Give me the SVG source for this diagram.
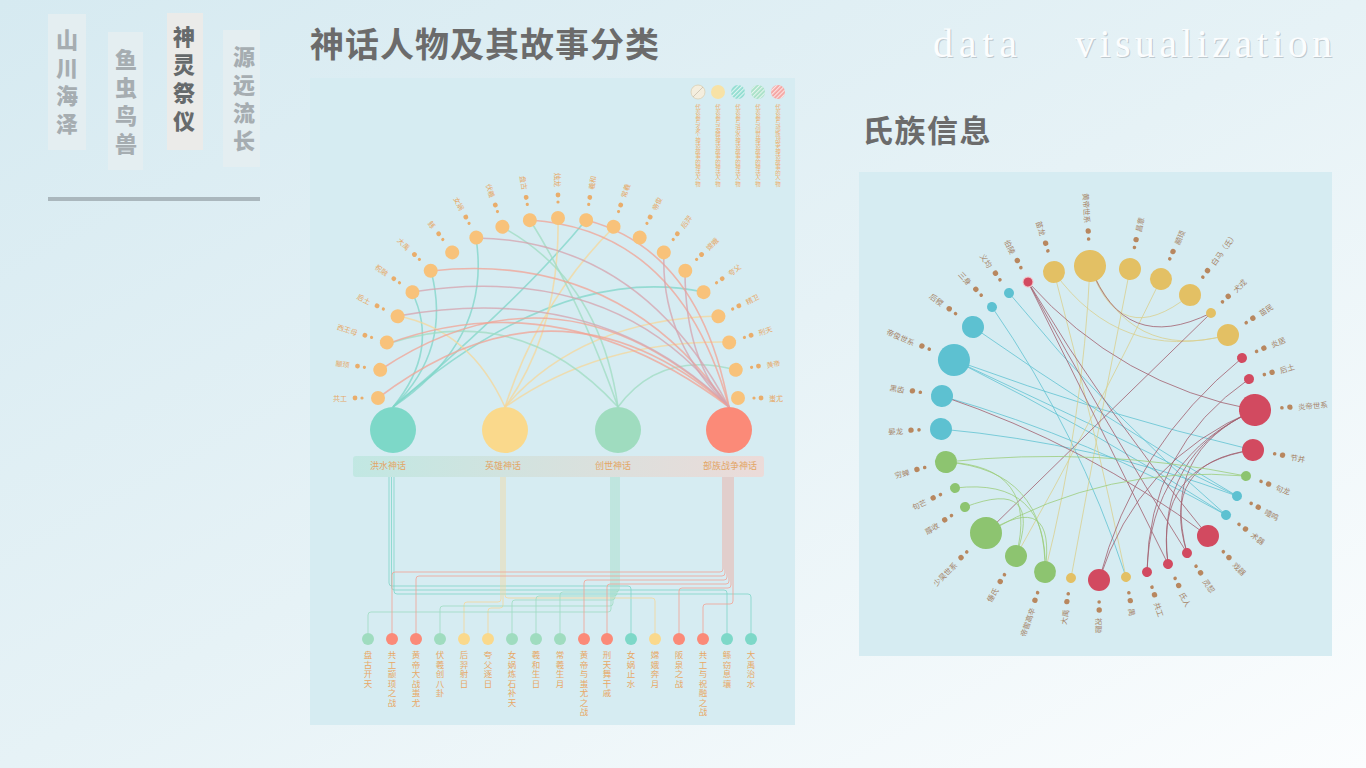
<svg xmlns="http://www.w3.org/2000/svg" width="1366" height="768" viewBox="0 0 1366 768">
<defs>
<linearGradient id="pg" x1="0" y1="0" x2="1" y2="1">
<stop offset="0" stop-color="#d6eaf1"/><stop offset="0.5" stop-color="#e6f2f6"/><stop offset="1" stop-color="#fbfdfe"/>
</linearGradient>
<linearGradient id="bar" x1="0" y1="0" x2="1" y2="0">
<stop offset="0" stop-color="#bfe7e1"/><stop offset="1" stop-color="#eed9d6"/>
</linearGradient>
<pattern id="hatch" width="3" height="3" patternUnits="userSpaceOnUse" patternTransform="rotate(-45)">
<rect width="3" height="1.2" fill="#ffffff" opacity="0.7"/>
</pattern>
<style>
.nav{font-family:"Noto Sans CJK SC",sans-serif;font-weight:900;font-size:22px;writing-mode:vertical-rl;letter-spacing:6px;fill:#a6adb1}
.navsel{fill:#666a6c}
.navbox{fill:#e4eef1}
.title{font-family:"Noto Sans CJK SC",sans-serif;font-weight:700;fill:#6b6b6b}
.panel{fill:#d6ecf2}
.al{font-family:"Noto Sans CJK SC",sans-serif;font-size:7px;fill:#e6a866;dominant-baseline:central}
.ad{fill:#e9ad6b}
.an{fill:#f8c27a}
.bl{font-family:"Noto Sans CJK SC",sans-serif;font-size:8.5px;fill:#e8a865;writing-mode:vertical-rl;letter-spacing:1px}
.lg{font-family:"Noto Sans CJK SC",sans-serif;font-size:5.5px;fill:#edb06f;writing-mode:vertical-rl}
.cat{font-family:"Noto Sans CJK SC",sans-serif;font-size:9px;fill:#e3a566;text-anchor:middle}
.e{fill:none;stroke-width:1.6;opacity:0.75}
.b{fill:none;stroke-width:1;opacity:0.8;stroke-linejoin:round}
.t{stroke:#7fd6c8}.y{stroke:#f5d79a}.g{stroke:#9fdcc2}.p{stroke:#f2a394}.m{stroke:#d6a3ae}
.rt{stroke:#62c3d2}.ry{stroke:#d9cf8f}.rm{stroke:#a3606f}.rg{stroke:#9ccd7c}
.re{fill:none;stroke-width:1;opacity:0.8}
.rl{font-family:"Noto Sans CJK SC",sans-serif;font-size:7.5px;fill:#a68468;dominant-baseline:central}
.rd{fill:#b8875f}
.cY{fill:#e3c064}.cT{fill:#5dc1d1}.cG{fill:#8dc470}.cR{fill:#d24a60}
.kT{fill:#7dd8c8}.kY{fill:#fad98c}.kG{fill:#9fdcbf}.kR{fill:#fb8a78}
</style>
</defs>

<rect width="1366" height="768" fill="url(#pg)"/>

<!-- navigation -->
<g id="nav">
<rect class="navbox" x="48" y="14" width="38" height="136"/>
<text class="nav" x="67" y="29">山川海泽</text>
<rect class="navbox" x="108" y="32" width="35" height="138"/>
<text class="nav" x="126" y="49">鱼虫鸟兽</text>
<rect x="167" y="13" width="36" height="137" fill="#ebebe9"/>
<text class="nav navsel" x="184" y="26">神灵祭仪</text>
<rect class="navbox" x="223" y="30" width="37" height="137"/>
<text class="nav" x="244" y="46">源远流长</text>
<line x1="48" y1="199" x2="260" y2="199" stroke="#aab7bd" stroke-width="4"/>
</g>

<!-- titles -->
<text class="title" x="310" y="57" font-size="34" letter-spacing="1">神话人物及其故事分类</text>
<text class="title" x="862" y="142" font-size="31" letter-spacing="1.5">氏族信息</text>
<g font-family="'Liberation Serif',serif" font-size="40">
<text x="934" y="58" textLength="84" lengthAdjust="spacing" fill="#bfc9ce">data</text>
<text x="1076" y="58" textLength="257" lengthAdjust="spacing" fill="#bfc9ce">visualization</text>
<text x="933" y="57" textLength="84" lengthAdjust="spacing" fill="#fbfdfe">data</text>
<text x="1075" y="57" textLength="257" lengthAdjust="spacing" fill="#fbfdfe">visualization</text>
</g>

<!-- left panel -->
<rect class="panel" x="310" y="78" width="485" height="647"/>

<g id="legend">
<circle cx="698" cy="92" r="7" fill="#f4eede" stroke="#dccfb2" stroke-width="0.8"/>
<line x1="693" y1="97" x2="703" y2="87" stroke="#c9bfae" stroke-width="0.8"/>
<circle cx="718" cy="92" r="7" fill="#f7e2a6"/>
<circle cx="738" cy="92" r="7" fill="#8edcd0"/><circle cx="738" cy="92" r="7" fill="url(#hatch)"/>
<circle cx="758" cy="92" r="7" fill="#a6e0c6"/><circle cx="758" cy="92" r="7" fill="url(#hatch)"/>
<circle cx="778" cy="92" r="7" fill="#f4a3a0"/><circle cx="778" cy="92" r="7" fill="url(#hatch)"/>
<text class="lg" x="698" y="104">代表参与多个神话故事的神话人物</text>
<text class="lg" x="718" y="104">代表参与英雄神话故事的神话人物</text>
<text class="lg" x="738" y="104">代表参与洪水神话故事的神话人物</text>
<text class="lg" x="758" y="104">代表参与创世神话故事的神话人物</text>
<text class="lg" x="778" y="104">代表参与部族战争神话故事的人物</text>
</g>

<g id="left-connectors">
<path class="e t" d="M412,292 Q440,350 393,407"/>
<path class="e t" d="M431,271 Q452,350 393,407"/>
<path class="e t" d="M476,238 Q492,340 393,407"/>
<path class="e t" d="M704,292 Q560,262 393,407"/>
<path class="e t" d="M586,220 Q520,300 393,407"/>
<path class="e y" d="M398,316 Q470,330 505,407"/>
<path class="e y" d="M614,227 Q540,300 505,407"/>
<path class="e y" d="M718,316 Q580,320 505,407"/>
<path class="e y" d="M729,342 Q600,340 505,407"/>
<path class="e y" d="M558,218 Q560,330 505,407"/>
<path class="e g" d="M387,344 Q520,300 618,407"/>
<path class="e g" d="M530,220 Q580,300 618,407"/>
<path class="e g" d="M736,370 Q660,350 618,407"/>
<path class="e g" d="M502,227 Q600,280 618,407"/>
<path class="e p" d="M378,398 Q560,260 729,407"/>
<path class="e p" d="M380,370 Q560,250 729,407"/>
<path class="e m" d="M398,316 Q600,280 729,407"/>
<path class="e p" d="M431,271 Q620,250 729,407"/>
<path class="e m" d="M476,238 Q640,240 729,407"/>
<path class="e p" d="M530,220 Q680,230 729,407"/>
<path class="e p" d="M586,220 Q700,250 729,407"/>
<path class="e m" d="M664,252 Q660,340 729,407"/>
<path class="e m" d="M685,271 Q685,360 729,407"/>
<path class="e p" d="M387,344 Q560,280 729,407"/>
<path class="e m" d="M412,292 Q620,260 729,407"/>
</g>

<g id="bottom-connectors">
<path class="b t" d="M389,477 V583 Q389,586 392,586 H628 Q631,586 631,589 V633"/>
<path class="b t" d="M391.5,477 V587 Q391.5,590 394.5,590 H724 Q727,590 727,593 V633"/>
<path class="b t" d="M394,477 V591 Q394,594 397,594 H748 Q751,594 751,597 V633"/>
<path class="b y" d="M501,477 V599 Q501,602 498,602 H467 Q464,602 464,605 V633"/>
<path class="b y" d="M503,477 V605 Q503,608 500,608 H491 Q488,608 488,611 V633"/>
<path class="b y" d="M505,477 V595 Q505,598 508,598 H652 Q655,598 655,601 V633"/>
<path class="b g" d="M611,477 V609 Q611,612 608,612 H371 Q368,612 368,615 V633"/>
<path class="b g" d="M613,477 V603 Q613,606 610,606 H443 Q440,606 440,609 V633"/>
<path class="b g" d="M615,477 V597 Q615,600 612,600 H515 Q512,600 512,603 V633"/>
<path class="b g" d="M617,477 V593 Q617,596 614,596 H539 Q536,596 536,599 V633"/>
<path class="b g" d="M619,477 V589 Q619,592 616,592 H563 Q560,592 560,595 V633"/>
<path class="b p" d="M723,477 V569 Q723,572 720,572 H395 Q392,572 392,575 V633"/>
<path class="b p" d="M725,477 V573 Q725,576 722,576 H419 Q416,576 416,579 V633"/>
<path class="b p" d="M727,477 V577 Q727,580 724,580 H587 Q584,580 584,583 V633"/>
<path class="b p" d="M729,477 V581 Q729,584 726,584 H610 Q607,584 607,587 V633"/>
<path class="b p" d="M731,477 V585 Q731,588 728,588 H682 Q679,588 679,591 V633"/>
<path class="b p" d="M733,477 V601 Q733,604 730,604 H706 Q703,604 703,607 V633"/>
</g>

<g id="arc-nodes">
<g id="a0" transform="translate(378,398) rotate(0)"><circle r="7" class="an"/><circle cx="-16" r="1.6" class="ad"/><circle cx="-23" r="2.4" class="ad"/><text class="al" x="-31" text-anchor="end">共工</text></g>
<g id="a1" transform="translate(380.2,369.8) rotate(9)"><circle r="7" class="an"/><circle cx="-16" r="1.6" class="ad"/><circle cx="-23" r="2.4" class="ad"/><text class="al" x="-31" text-anchor="end">颛顼</text></g>
<g id="a2" transform="translate(386.8,342.4) rotate(18)"><circle r="7" class="an"/><circle cx="-16" r="1.6" class="ad"/><circle cx="-23" r="2.4" class="ad"/><text class="al" x="-31" text-anchor="end">西王母</text></g>
<g id="a3" transform="translate(397.6,316.3) rotate(27)"><circle r="7" class="an"/><circle cx="-16" r="1.6" class="ad"/><circle cx="-23" r="2.4" class="ad"/><text class="al" x="-31" text-anchor="end">后土</text></g>
<g id="a4" transform="translate(412.4,292.2) rotate(36)"><circle r="7" class="an"/><circle cx="-16" r="1.6" class="ad"/><circle cx="-23" r="2.4" class="ad"/><text class="al" x="-31" text-anchor="end">祝融</text></g>
<g id="a5" transform="translate(430.7,270.7) rotate(45)"><circle r="7" class="an"/><circle cx="-16" r="1.6" class="ad"/><circle cx="-23" r="2.4" class="ad"/><text class="al" x="-31" text-anchor="end">大禹</text></g>
<g id="a6" transform="translate(452.2,252.4) rotate(54)"><circle r="7" class="an"/><circle cx="-16" r="1.6" class="ad"/><circle cx="-23" r="2.4" class="ad"/><text class="al" x="-31" text-anchor="end">鲧</text></g>
<g id="a7" transform="translate(476.3,237.6) rotate(63)"><circle r="7" class="an"/><circle cx="-16" r="1.6" class="ad"/><circle cx="-23" r="2.4" class="ad"/><text class="al" x="-31" text-anchor="end">女娲</text></g>
<g id="a8" transform="translate(502.4,226.8) rotate(72)"><circle r="7" class="an"/><circle cx="-16" r="1.6" class="ad"/><circle cx="-23" r="2.4" class="ad"/><text class="al" x="-31" text-anchor="end">伏羲</text></g>
<g id="a9" transform="translate(529.8,220.2) rotate(81)"><circle r="7" class="an"/><circle cx="-16" r="1.6" class="ad"/><circle cx="-23" r="2.4" class="ad"/><text class="al" x="-31" text-anchor="end">盘古</text></g>
<g id="a10" transform="translate(558,218) rotate(90)"><circle r="7" class="an"/><circle cx="-16" r="1.6" class="ad"/><circle cx="-23" r="2.4" class="ad"/><text class="al" x="-31" text-anchor="end">烛龙</text></g>
<g id="a11" transform="translate(586.2,220.2) rotate(-81)"><circle r="7" class="an"/><circle cx="16" r="1.6" class="ad"/><circle cx="23" r="2.4" class="ad"/><text class="al" x="31">羲和</text></g>
<g id="a12" transform="translate(613.6,226.8) rotate(-72)"><circle r="7" class="an"/><circle cx="16" r="1.6" class="ad"/><circle cx="23" r="2.4" class="ad"/><text class="al" x="31">常羲</text></g>
<g id="a13" transform="translate(639.7,237.6) rotate(-63)"><circle r="7" class="an"/><circle cx="16" r="1.6" class="ad"/><circle cx="23" r="2.4" class="ad"/><text class="al" x="31">帝俊</text></g>
<g id="a14" transform="translate(663.8,252.4) rotate(-54)"><circle r="7" class="an"/><circle cx="16" r="1.6" class="ad"/><circle cx="23" r="2.4" class="ad"/><text class="al" x="31">后羿</text></g>
<g id="a15" transform="translate(685.3,270.7) rotate(-45)"><circle r="7" class="an"/><circle cx="16" r="1.6" class="ad"/><circle cx="23" r="2.4" class="ad"/><text class="al" x="31">嫦娥</text></g>
<g id="a16" transform="translate(703.6,292.2) rotate(-36)"><circle r="7" class="an"/><circle cx="16" r="1.6" class="ad"/><circle cx="23" r="2.4" class="ad"/><text class="al" x="31">夸父</text></g>
<g id="a17" transform="translate(718.4,316.3) rotate(-27)"><circle r="7" class="an"/><circle cx="16" r="1.6" class="ad"/><circle cx="23" r="2.4" class="ad"/><text class="al" x="31">精卫</text></g>
<g id="a18" transform="translate(729.2,342.4) rotate(-18)"><circle r="7" class="an"/><circle cx="16" r="1.6" class="ad"/><circle cx="23" r="2.4" class="ad"/><text class="al" x="31">刑天</text></g>
<g id="a19" transform="translate(735.8,369.8) rotate(-9)"><circle r="7" class="an"/><circle cx="16" r="1.6" class="ad"/><circle cx="23" r="2.4" class="ad"/><text class="al" x="31">黄帝</text></g>
<g id="a20" transform="translate(738,398) rotate(0)"><circle r="7" class="an"/><circle cx="16" r="1.6" class="ad"/><circle cx="23" r="2.4" class="ad"/><text class="al" x="31">蚩尤</text></g>
</g>

<g id="category-bar">
<rect x="353" y="456" width="411" height="21" rx="3" fill="url(#bar)" opacity="0.9"/>
</g>
<g id="cat-flood"><circle cx="393" cy="430" r="23" class="kT"/><text class="cat" x="388" y="469">洪水神话</text></g>
<g id="cat-hero"><circle cx="505" cy="430" r="23" class="kY"/><text class="cat" x="503" y="469">英雄神话</text></g>
<g id="cat-creation"><circle cx="618" cy="430" r="23" class="kG"/><text class="cat" x="613" y="469">创世神话</text></g>
<g id="cat-war"><circle cx="729" cy="430" r="23" class="kR"/><text class="cat" x="730" y="469">部族战争神话</text></g>

<g id="stories">
<g id="s1"><circle cx="368" cy="639" r="6" class="kG"/><text class="bl" x="368" y="651">盘古开天</text></g>
<g id="s2"><circle cx="392" cy="639" r="6" class="kR"/><text class="bl" x="392" y="651">共工颛顼之战</text></g>
<g id="s3"><circle cx="416" cy="639" r="6" class="kR"/><text class="bl" x="416" y="651">黄帝大战蚩尤</text></g>
<g id="s4"><circle cx="440" cy="639" r="6" class="kG"/><text class="bl" x="440" y="651">伏羲创八卦</text></g>
<g id="s5"><circle cx="464" cy="639" r="6" class="kY"/><text class="bl" x="464" y="651">后羿射日</text></g>
<g id="s6"><circle cx="488" cy="639" r="6" class="kY"/><text class="bl" x="488" y="651">夸父逐日</text></g>
<g id="s7"><circle cx="512" cy="639" r="6" class="kG"/><text class="bl" x="512" y="651">女娲炼石补天</text></g>
<g id="s8"><circle cx="536" cy="639" r="6" class="kG"/><text class="bl" x="536" y="651">羲和生日</text></g>
<g id="s9"><circle cx="560" cy="639" r="6" class="kG"/><text class="bl" x="560" y="651">常羲生月</text></g>
<g id="s10"><circle cx="584" cy="639" r="6" class="kR"/><text class="bl" x="584" y="651">黄帝与蚩尤之战</text></g>
<g id="s11"><circle cx="607" cy="639" r="6" class="kR"/><text class="bl" x="607" y="651">刑天舞干戚</text></g>
<g id="s12"><circle cx="631" cy="639" r="6" class="kT"/><text class="bl" x="631" y="651">女娲止水</text></g>
<g id="s13"><circle cx="655" cy="639" r="6" class="kY"/><text class="bl" x="655" y="651">嫦娥奔月</text></g>
<g id="s14"><circle cx="679" cy="639" r="6" class="kR"/><text class="bl" x="679" y="651">阪泉之战</text></g>
<g id="s15"><circle cx="703" cy="639" r="6" class="kR"/><text class="bl" x="703" y="651">共工与祝融之战</text></g>
<g id="s16"><circle cx="727" cy="639" r="6" class="kT"/><text class="bl" x="727" y="651">鲧窃息壤</text></g>
<g id="s17"><circle cx="751" cy="639" r="6" class="kT"/><text class="bl" x="751" y="651">大禹治水</text></g>
</g>

<!-- right panel -->
<rect class="panel" x="859" y="172" width="473" height="484"/>

<g id="clan-connectors">
<path class="re rt" d="M954,360 Q1097,426 1237,496"/>
<path class="re rt" d="M954,360 Q1094,430 1226,515"/>
<path class="re rt" d="M973,327 Q1102,417 1237,496"/>
<path class="re rt" d="M942,396 Q1091,439 1226,515"/>
<path class="re rt" d="M941,429 Q1094,443 1237,496"/>
<path class="re rt" d="M1009,293 Q1108,414 1226,515"/>
<path class="re rt" d="M954,360 Q1101,414 1253,450"/>
<path class="re rt" d="M992,307 Q1079,433 1126,577"/>
<path class="re ry" d="M1090,266 Q1129,362 1228,335"/>
<path class="re ry" d="M1090,266 Q1119,352 1190,295"/>
<path class="re ry" d="M1054,272 Q1120,363 1228,335"/>
<path class="re ry" d="M1130,269 Q1099,423 1071,578"/>
<path class="re ry" d="M1054,272 Q1094,424 1126,577"/>
<path class="re ry" d="M1161,279 Q1093,420 1016,556"/>
<path class="re ry" d="M1090,266 Q1083,421 1045,572"/>
<path class="re rm" d="M1255,410 Q1120,385 1028,282"/>
<path class="re rm" d="M1255,410 Q1138,459 1099,580"/>
<path class="re rm" d="M1255,410 Q1150,457 1147,572"/>
<path class="re rm" d="M1255,410 Q1155,455 1168,564"/>
<path class="re rm" d="M1255,410 Q1160,452 1187,553"/>
<path class="re rm" d="M1028,282 Q1103,420 1187,553"/>
<path class="re rm" d="M1028,282 Q1098,423 1168,564"/>
<path class="re rm" d="M1090,266 Q1124,356 1211,313"/>
<path class="re rm" d="M1211,313 Q1098,423 986,533"/>
<path class="re rm" d="M1242,358 Q1134,446 1099,580"/>
<path class="re rm" d="M1249,379 Q1148,449 1147,572"/>
<path class="re rm" d="M1253,450 Q1154,465 1168,564"/>
<path class="re rm" d="M1253,450 Q1159,462 1187,553"/>
<path class="re rm" d="M1208,536 Q1087,445 942,396"/>
<path class="re rm" d="M1028,282 Q1108,416 1208,536"/>
<path class="re rg" d="M946,462 Q1047,470 1045,572"/>
<path class="re rg" d="M955,488 Q1049,477 1045,572"/>
<path class="re rg" d="M965,507 Q1044,477 1016,556"/>
<path class="re rg" d="M986,533 Q1107,464 1246,476"/>
<path class="re rg" d="M946,462 Q1097,446 1246,476"/>
<path class="re rg" d="M986,533 Q1057,488 1045,572"/>
<path class="re rg" d="M1016,556 Q1040,466 946,462"/>
</g>

<g id="clan-nodes">
<g id="c1" transform="translate(1090,266) rotate(87.1)"><circle r="16" class="cY"/><circle cx="-27" r="1.8" class="rd"/><circle cx="-35" r="2.7" class="rd"/><text class="rl" x="-43" text-anchor="end">黄帝世系</text></g>
<g id="c2" transform="translate(1130,269) rotate(-78.3)"><circle r="11" class="cY"/><circle cx="22" r="1.8" class="rd"/><circle cx="30" r="2.7" class="rd"/><text class="rl" x="38">昌意</text></g>
<g id="c3" transform="translate(1161,279) rotate(-66.4)"><circle r="11" class="cY"/><circle cx="22" r="1.8" class="rd"/><circle cx="30" r="2.7" class="rd"/><text class="rl" x="38">颛顼</text></g>
<g id="c4" transform="translate(1190,295) rotate(-54.3)"><circle r="11" class="cY"/><circle cx="22" r="1.8" class="rd"/><circle cx="30" r="2.7" class="rd"/><text class="rl" x="38">白马（氐）</text></g>
<g id="c5" transform="translate(1211,313) rotate(-44.2)"><circle r="5" class="cY"/><circle cx="16" r="1.8" class="rd"/><circle cx="24" r="2.7" class="rd"/><text class="rl" x="32">犬戎</text></g>
<g id="c6" transform="translate(1228,335) rotate(-34.1)"><circle r="11" class="cY"/><circle cx="22" r="1.8" class="rd"/><circle cx="30" r="2.7" class="rd"/><text class="rl" x="38">苗民</text></g>
<g id="c7" transform="translate(1242,358) rotate(-24.3)"><circle r="5" class="cR"/><circle cx="16" r="1.8" class="rd"/><circle cx="24" r="2.7" class="rd"/><text class="rl" x="32">炎居</text></g>
<g id="c8" transform="translate(1249,379) rotate(-16.2)"><circle r="5" class="cR"/><circle cx="16" r="1.8" class="rd"/><circle cx="24" r="2.7" class="rd"/><text class="rl" x="32">后土</text></g>
<g id="c9" transform="translate(1255,410) rotate(-4.7)"><circle r="16" class="cR"/><circle cx="27" r="1.8" class="rd"/><circle cx="35" r="2.7" class="rd"/><text class="rl" x="43">炎帝世系</text></g>
<g id="c10" transform="translate(1253,450) rotate(9.9)"><circle r="11" class="cR"/><circle cx="22" r="1.8" class="rd"/><circle cx="30" r="2.7" class="rd"/><text class="rl" x="38">节并</text></g>
<g id="c11" transform="translate(1246,476) rotate(19.7)"><circle r="5" class="cG"/><circle cx="16" r="1.8" class="rd"/><circle cx="24" r="2.7" class="rd"/><text class="rl" x="32">句龙</text></g>
<g id="c12" transform="translate(1237,496) rotate(27.7)"><circle r="5" class="cT"/><circle cx="16" r="1.8" class="rd"/><circle cx="24" r="2.7" class="rd"/><text class="rl" x="32">噎鸣</text></g>
<g id="c13" transform="translate(1226,515) rotate(35.7)"><circle r="5" class="cT"/><circle cx="16" r="1.8" class="rd"/><circle cx="24" r="2.7" class="rd"/><text class="rl" x="32">术器</text></g>
<g id="c14" transform="translate(1208,536) rotate(45.8)"><circle r="11" class="cR"/><circle cx="22" r="1.8" class="rd"/><circle cx="30" r="2.7" class="rd"/><text class="rl" x="38">戏器</text></g>
<g id="c15" transform="translate(1187,553) rotate(55.6)"><circle r="5" class="cR"/><circle cx="16" r="1.8" class="rd"/><circle cx="24" r="2.7" class="rd"/><text class="rl" x="32">灵恝</text></g>
<g id="c16" transform="translate(1168,564) rotate(63.6)"><circle r="5" class="cR"/><circle cx="16" r="1.8" class="rd"/><circle cx="24" r="2.7" class="rd"/><text class="rl" x="32">氐人</text></g>
<g id="c17" transform="translate(1147,572) rotate(71.8)"><circle r="5" class="cR"/><circle cx="16" r="1.8" class="rd"/><circle cx="24" r="2.7" class="rd"/><text class="rl" x="32">共工</text></g>
<g id="c18" transform="translate(1126,577) rotate(79.7)"><circle r="5" class="cY"/><circle cx="16" r="1.8" class="rd"/><circle cx="24" r="2.7" class="rd"/><text class="rl" x="32">禺</text></g>
<g id="c19" transform="translate(1099,580) rotate(89.6)"><circle r="11" class="cR"/><circle cx="22" r="1.8" class="rd"/><circle cx="30" r="2.7" class="rd"/><text class="rl" x="38">祝融</text></g>
<g id="c20" transform="translate(1071,578) rotate(-80.1)"><circle r="5" class="cY"/><circle cx="-16" r="1.8" class="rd"/><circle cx="-24" r="2.7" class="rd"/><text class="rl" x="-32" text-anchor="end">大禹</text></g>
<g id="c21" transform="translate(1045,572) rotate(-70.4)"><circle r="11" class="cG"/><circle cx="-22" r="1.8" class="rd"/><circle cx="-30" r="2.7" class="rd"/><text class="rl" x="-38" text-anchor="end">帝喾高辛</text></g>
<g id="c22" transform="translate(1016,556) rotate(-58.3)"><circle r="11" class="cG"/><circle cx="-22" r="1.8" class="rd"/><circle cx="-30" r="2.7" class="rd"/><text class="rl" x="-38" text-anchor="end">倕氏</text></g>
<g id="c23" transform="translate(986,533) rotate(-44.5)"><circle r="16" class="cG"/><circle cx="-27" r="1.8" class="rd"/><circle cx="-35" r="2.7" class="rd"/><text class="rl" x="-43" text-anchor="end">少昊世系</text></g>
<g id="c24" transform="translate(965,507) rotate(-32.3)"><circle r="5" class="cG"/><circle cx="-16" r="1.8" class="rd"/><circle cx="-24" r="2.7" class="rd"/><text class="rl" x="-32" text-anchor="end">蓐收</text></g>
<g id="c25" transform="translate(955,488) rotate(-24.4)"><circle r="5" class="cG"/><circle cx="-16" r="1.8" class="rd"/><circle cx="-24" r="2.7" class="rd"/><text class="rl" x="-32" text-anchor="end">句芒</text></g>
<g id="c26" transform="translate(946,462) rotate(-14.4)"><circle r="11" class="cG"/><circle cx="-22" r="1.8" class="rd"/><circle cx="-30" r="2.7" class="rd"/><text class="rl" x="-38" text-anchor="end">穷蝉</text></g>
<g id="c27" transform="translate(941,429) rotate(-2.2)"><circle r="11" class="cT"/><circle cx="-22" r="1.8" class="rd"/><circle cx="-30" r="2.7" class="rd"/><text class="rl" x="-38" text-anchor="end">晏龙</text></g>
<g id="c28" transform="translate(942,396) rotate(9.8)"><circle r="11" class="cT"/><circle cx="-22" r="1.8" class="rd"/><circle cx="-30" r="2.7" class="rd"/><text class="rl" x="-38" text-anchor="end">黑齿</text></g>
<g id="c29" transform="translate(954,360) rotate(23.6)"><circle r="16" class="cT"/><circle cx="-27" r="1.8" class="rd"/><circle cx="-35" r="2.7" class="rd"/><text class="rl" x="-43" text-anchor="end">帝俊世系</text></g>
<g id="c30" transform="translate(973,327) rotate(37.5)"><circle r="11" class="cT"/><circle cx="-22" r="1.8" class="rd"/><circle cx="-30" r="2.7" class="rd"/><text class="rl" x="-38" text-anchor="end">后稷</text></g>
<g id="c31" transform="translate(992,307) rotate(47.6)"><circle r="5" class="cT"/><circle cx="-16" r="1.8" class="rd"/><circle cx="-24" r="2.7" class="rd"/><text class="rl" x="-32" text-anchor="end">三身</text></g>
<g id="c32" transform="translate(1009,293) rotate(55.6)"><circle r="5" class="cT"/><circle cx="-16" r="1.8" class="rd"/><circle cx="-24" r="2.7" class="rd"/><text class="rl" x="-32" text-anchor="end">义均</text></g>
<g id="c33" transform="translate(1028,282) rotate(63.6)"><circle r="5" class="cR" stroke="#f3c2c8" stroke-width="1"/><circle cx="-16" r="1.8" class="rd"/><circle cx="-24" r="2.7" class="rd"/><text class="rl" x="-32" text-anchor="end">伯陵</text></g>
<g id="c34" transform="translate(1054,272) rotate(73.8)"><circle r="11" class="cY"/><circle cx="-22" r="1.8" class="rd"/><circle cx="-30" r="2.7" class="rd"/><text class="rl" x="-38" text-anchor="end">苗龙</text></g>
</g>
</svg>
